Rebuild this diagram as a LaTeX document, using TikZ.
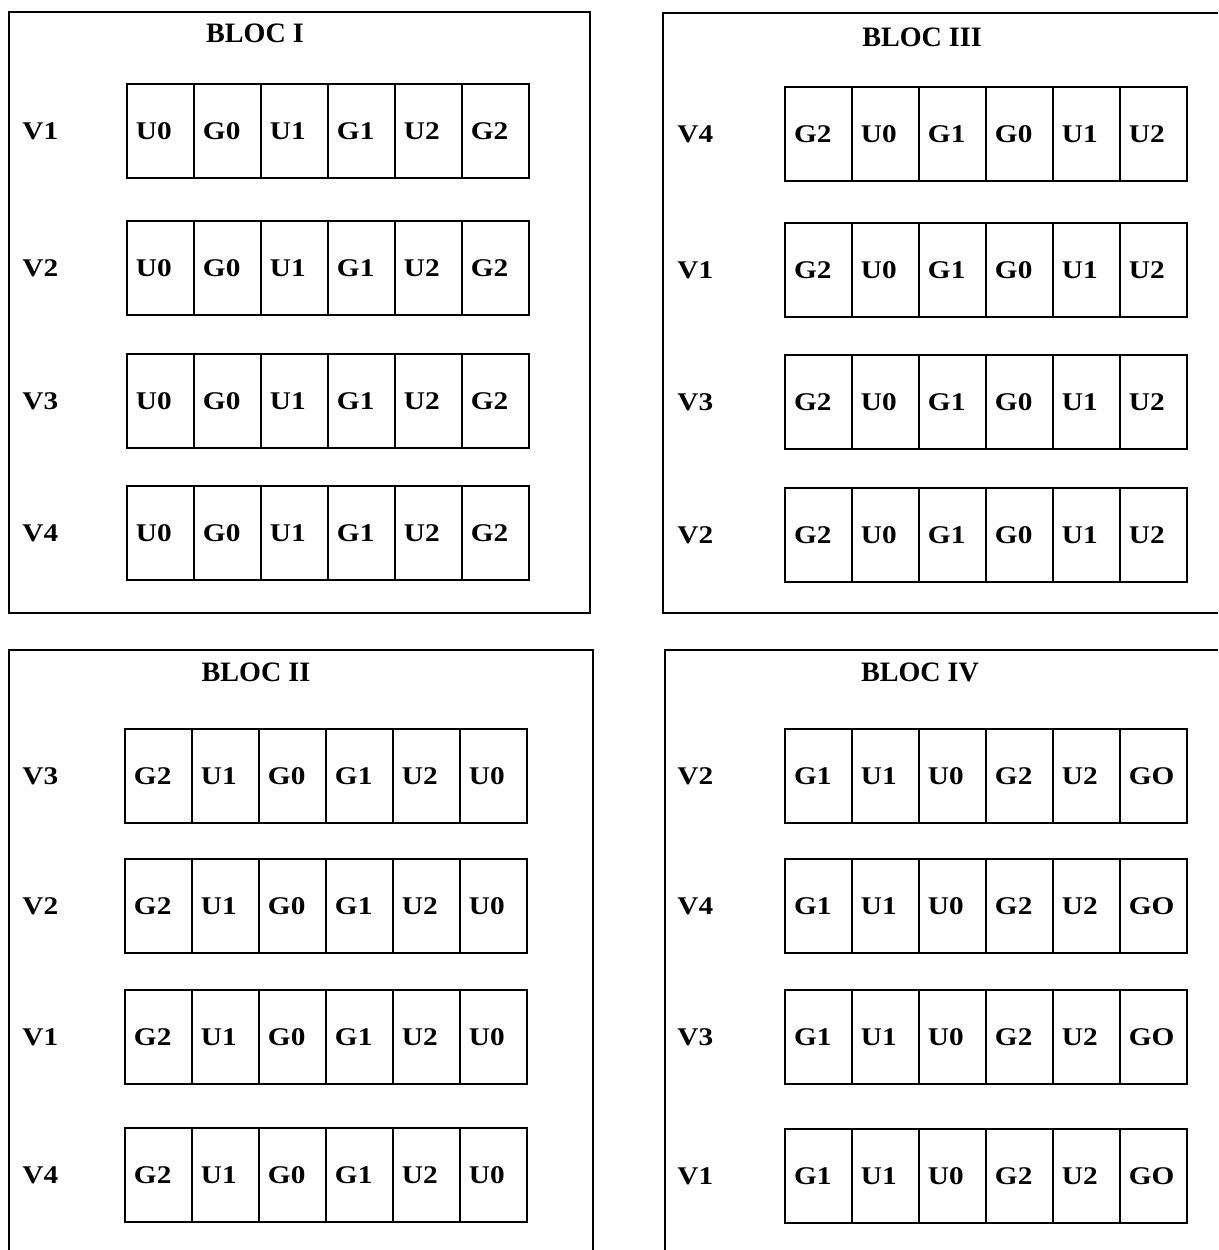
\documentclass[tikz,border=0pt]{standalone}
\usepackage{fontspec}
\setmainfont{Liberation Serif}
\newfontfamily\cellfont{Liberation Serif}[FakeStretch=1.15]
\usetikzlibrary{positioning}

\tikzset{
  cell/.style={draw,line width=1pt,outer sep=0pt,minimum height=1.88cm,
    text width=0.98cm,inner xsep=0.18cm,align=left,
    font=\cellfont\bfseries\fontsize{14.5}{16}\selectfont},
  vlabel/.style={anchor=west,inner sep=0pt,
    font=\cellfont\bfseries\fontsize{14.5}{16}\selectfont},
  bloctitle/.style={font=\bfseries\fontsize{16}{18}\selectfont},
  frame/.style={line width=0.6pt}
}

% #1 name, #2 x of the V labels, #3 x of the first cell,
% #4 rows as V/y, #5 cell texts
\newcommand\drawbloc[5]{%
  \foreach \v/\y [count=\r] in {#4} {
    \node[vlabel] (#1v\r) at (#2,\y) {\v};
    \coordinate (#1r\r c0) at (#3,\y);
    \foreach \t [count=\c] in {#5} {
      \pgfmathtruncatemacro\p{\c-1}
      \node[cell,right=0pt of #1r\r c\p] (#1r\r c\c) {\t};
    }
  }
}

\begin{document}
\begin{tikzpicture}[x=0.02cm,y=-0.02cm]
    \useasboundingbox (0,0) rectangle (1218,1250);

    % frames
    \draw[frame] (9,12) rectangle (590,613);
    \draw[frame] (1218,13) -- (663,13) -- (663,613) -- (1218,613);
    \draw[frame] (9,1250) -- (9,650) -- (593,650) -- (593,1250);
    \draw[frame] (665,1250) -- (665,650) -- (1218,650);

    % titles
    \node[bloctitle] (t1) at (255,33) {BLOC I};
    \node[bloctitle] (t3) at (922,37) {BLOC III};
    \node[bloctitle] (t2) at (256,672) {BLOC II};
    \node[bloctitle] (t4) at (920,672) {BLOC IV};

    % blocs
    \drawbloc{bi}{22}{127}{V1/131,V2/268,V3/401,V4/533}{U0,G0,U1,G1,U2,G2}
    \drawbloc{biii}{677}{785}{V4/134,V1/270,V3/402,V2/535}{G2,U0,G1,G0,U1,U2}
    \drawbloc{bii}{22}{125}{V3/776,V2/906,V1/1037,V4/1175}{G2,U1,G0,G1,U2,U0}
    \drawbloc{biv}{677}{785}{V2/776,V4/906,V3/1037,V1/1176}{G1,U1,U0,G2,U2,GO}
\end{tikzpicture}
\end{document}
